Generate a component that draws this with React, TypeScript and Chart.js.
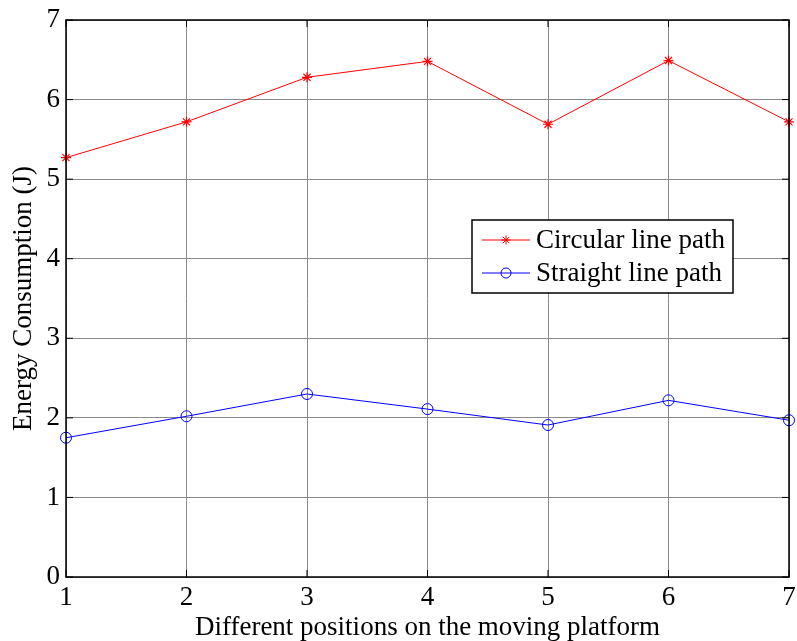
import React, { useEffect, useRef } from 'react';
import { Chart, registerables } from 'chart.js';
Chart.register(...registerables);

const positions = ['1', '2', '3', '4', '5', '6', '7'];
const circularPath = [5.27, 5.72, 6.28, 6.48, 5.69, 6.49, 5.72];
const straightPath = [1.75, 2.02, 2.3, 2.11, 1.91, 2.22, 1.97];
const yMin = 0;
const yMax = 7;
const seriesNames = ['Circular line path', 'Straight line path'];
const xTitle = 'Different positions on the moving platform';
const yTitle = 'Energy Consumption (J)';

const FONT = '"Liberation Serif", "Times New Roman", serif';
const FS = 27;

const boxPlugin = {
  id: 'matlabBox',
  afterDraw(chart: any) {
    const { ctx, chartArea } = chart;
    const { left, right, top, bottom } = chartArea;
    ctx.save();
    ctx.strokeStyle = '#000';
    ctx.lineWidth = 1.5;
    ctx.strokeRect(left, top, right - left, bottom - top);
    // inward ticks
    ctx.lineWidth = 1;
    const tl = 7;
    const xs = chart.scales.x;
    const ys = chart.scales.y;
    ctx.beginPath();
    xs.ticks.forEach((_t: any, i: number) => {
      const px = xs.getPixelForTick(i);
      ctx.moveTo(px, bottom);
      ctx.lineTo(px, bottom - tl);
      ctx.moveTo(px, top);
      ctx.lineTo(px, top + tl);
    });
    ys.ticks.forEach((_t: any, i: number) => {
      const py = ys.getPixelForTick(i);
      ctx.moveTo(left, py);
      ctx.lineTo(left + tl, py);
      ctx.moveTo(right, py);
      ctx.lineTo(right - tl, py);
    });
    ctx.stroke();

    // legend
    const bx = right - 56;
    const bw = 261;
    const bL = bx - bw;
    const bT = top + 200;
    const bh = 73;
    ctx.fillStyle = '#fff';
    ctx.fillRect(bL, bT, bw, bh);
    ctx.lineWidth = 1.5;
    ctx.strokeStyle = '#000';
    ctx.strokeRect(bL, bT, bw, bh);
    const rows = [
      { y: bT + 20, color: '#ff0000', marker: 'star' },
      { y: bT + 53, color: '#0000ff', marker: 'circle' },
    ];
    rows.forEach((r, i) => {
      const x0 = bL + 10;
      const x1 = bL + 58;
      const xm = (x0 + x1) / 2;
      ctx.strokeStyle = r.color;
      ctx.lineWidth = 1;
      ctx.beginPath();
      ctx.moveTo(x0, r.y);
      ctx.lineTo(x1, r.y);
      ctx.stroke();
      ctx.beginPath();
      if (r.marker === 'star') {
        const s = 4.5;
        ctx.moveTo(xm - s, r.y); ctx.lineTo(xm + s, r.y);
        ctx.moveTo(xm, r.y - s); ctx.lineTo(xm, r.y + s);
        const d = s * 0.707;
        ctx.moveTo(xm - d, r.y - d); ctx.lineTo(xm + d, r.y + d);
        ctx.moveTo(xm - d, r.y + d); ctx.lineTo(xm + d, r.y - d);
      } else {
        ctx.arc(xm, r.y, 5, 0, Math.PI * 2);
      }
      ctx.stroke();
      ctx.fillStyle = '#000';
      ctx.font = `${FS}px ${FONT}`;
      ctx.textBaseline = 'middle';
      ctx.textAlign = 'left';
      ctx.fillText(seriesNames[i], bL + 64, r.y + 1);
    });
    ctx.restore();
  },
};

export default function App() {
  const ref = useRef<HTMLCanvasElement>(null);
  useEffect(() => {
    const chart = new Chart(ref.current!, {
      type: 'line',
      data: {
        labels: positions,
        datasets: [
          {
            label: seriesNames[0],
            data: circularPath,
            borderColor: '#ff0000',
            borderWidth: 1,
            pointStyle: 'star',
            pointRadius: 5,
            pointBorderColor: '#ff0000',
            pointBorderWidth: 1.2,
            pointBackgroundColor: '#ff0000',
            tension: 0,
          },
          {
            label: seriesNames[1],
            data: straightPath,
            borderColor: '#0000ff',
            borderWidth: 1,
            pointStyle: 'circle',
            pointRadius: 5.5,
            pointBorderColor: '#0000ff',
            pointBorderWidth: 1,
            pointBackgroundColor: 'rgba(0,0,0,0)',
            tension: 0,
          },
        ],
      },
      options: {
        animation: false,
        responsive: true,
        maintainAspectRatio: false,
        layout: { padding: { top: 20, right: 8, left: 0, bottom: 0 } },
        plugins: { legend: { display: false }, tooltip: { enabled: false } },
        scales: {
          x: {
            type: 'category',
            offset: false,
            grid: { color: '#8a8a8a', lineWidth: 1, drawTicks: false, offset: false },
            border: { display: false },
            ticks: { color: '#000', font: { family: FONT, size: FS }, padding: 5, maxRotation: 0, autoSkip: false },
            title: { display: true, text: xTitle, color: '#000', font: { family: FONT, size: FS }, padding: { top: 0, bottom: -3 } },
            afterFit: (s: any) => { s.height = 64; s.paddingLeft = 0; s.paddingRight = 0; },
          },
          y: {
            min: yMin,
            max: yMax,
            grid: { color: '#8a8a8a', lineWidth: 1, drawTicks: false },
            border: { display: false },
            ticks: { stepSize: 1, color: '#000', font: { family: FONT, size: FS }, padding: 6 },
            title: { display: true, text: yTitle, color: '#000', font: { family: FONT, size: FS }, padding: { top: 8, bottom: 0 } },
            afterFit: (s: any) => { s.width = 66; s.paddingTop = 0; s.paddingBottom = 0; },
          },
        },
      },
      plugins: [boxPlugin],
    });
    return () => chart.destroy();
  }, []);
  return (
    <div style={{ position: 'fixed', left: 0, top: 0, width: 797, height: 641, background: '#fff' }}>
      <canvas ref={ref} />
    </div>
  );
}
